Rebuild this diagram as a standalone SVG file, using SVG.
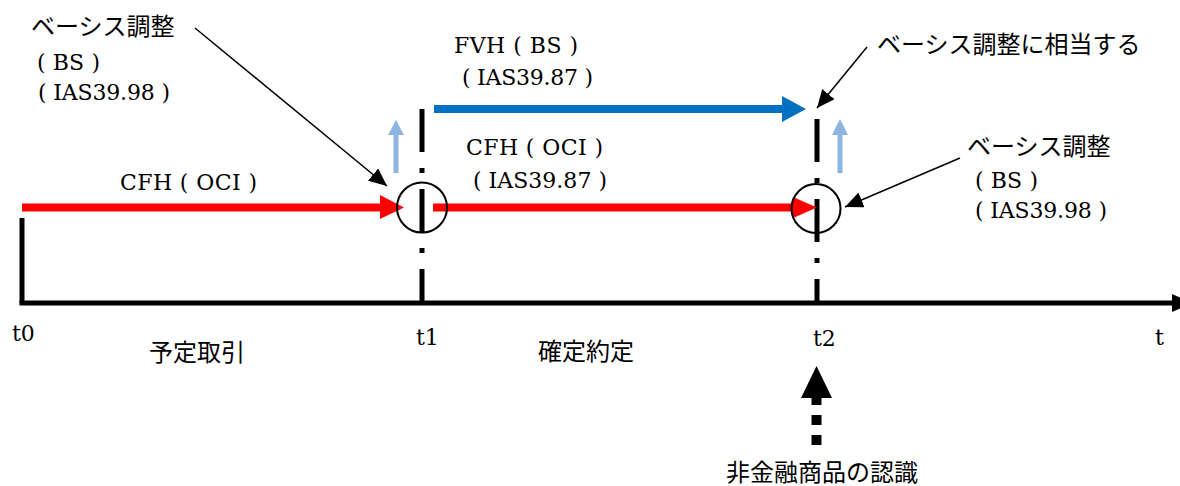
<svg xmlns="http://www.w3.org/2000/svg" width="1180" height="486" viewBox="0 0 1180 486">
<style>
.jp{font-family:"Noto Sans CJK JP","Noto Sans",sans-serif;font-size:24px;fill:#000}
.sf{font-family:"DejaVu Serif","Liberation Serif",serif;font-size:22px;fill:#000}
.thin{stroke:#000;stroke-width:1.5;fill:none;marker-end:url(#ah)}
.dd{stroke:#000;stroke-width:5;stroke-dasharray:43 16 5 16;fill:none}
.circ{fill:none;stroke:#000;stroke-width:2}
</style>
<defs>
<marker id="ah" markerUnits="userSpaceOnUse" markerWidth="20" markerHeight="16" refX="18" refY="8" orient="auto">
<path d="M0,0 L18,8 L0,16 Z" fill="#000"/>
</marker>
</defs>
<rect width="1180" height="486" fill="#fff"/>

<g id="axis">
<line x1="22" y1="218" x2="22" y2="303" stroke="#000" stroke-width="5"/>
<line x1="19.5" y1="303" x2="1174" y2="303" stroke="#000" stroke-width="5"/>
<polygon points="1172,294 1192,303 1172,312" fill="#000"/>
</g>

<g id="t1-line"><line class="dd" x1="422" y1="109" x2="422" y2="303"/></g>
<g id="t2-line"><line class="dd" x1="817" y1="119" x2="817" y2="303"/></g>

<g id="connectors">
<line x1="22" y1="207.5" x2="381" y2="207.5" stroke="#ff0000" stroke-width="8"/>
<polygon points="380,195 404,207.5 380,219" fill="#ff0000"/>
<line x1="433" y1="207.5" x2="794" y2="207.5" stroke="#ff0000" stroke-width="8"/>
<polygon points="793,197 817,207.5 793,218" fill="#ff0000"/>
<line x1="434" y1="109" x2="783" y2="109" stroke="#0070c0" stroke-width="8"/>
<polygon points="782,96 806,109 782,122" fill="#0070c0"/>
<line x1="396" y1="173" x2="396" y2="134" stroke="#8db4e2" stroke-width="5"/>
<polygon points="388,135 396,120 404,135" fill="#8db4e2"/>
<line x1="840" y1="173" x2="840" y2="134" stroke="#8db4e2" stroke-width="5"/>
<polygon points="832,135 840,119 848,135" fill="#8db4e2"/>
<line class="thin" x1="195" y1="28" x2="387" y2="186"/>
<line class="thin" x1="867" y1="47" x2="817" y2="108"/>
<line class="thin" x1="960" y1="158" x2="845" y2="207"/>
<line x1="816.5" y1="445" x2="816.5" y2="398" stroke="#000" stroke-width="10" stroke-dasharray="10 10"/>
<polygon points="801,398 816.5,366 832,398" fill="#000"/>
</g>

<g id="circle-t1"><circle class="circ" cx="422" cy="207.5" r="25"/></g>
<g id="circle-t2"><circle class="circ" cx="816" cy="208.5" r="24.5"/></g>

<g id="label-basis-left">
<text class="jp" x="31" y="35">ベーシス調整</text>
<text class="sf" x="37" y="70" textLength="63">( BS )</text>
<text class="sf" x="38" y="100" textLength="132">( IAS39.98 )</text>
</g>
<g id="label-cfh1"><text class="sf" x="120" y="190" textLength="137">CFH ( OCI )</text></g>
<g id="label-fvh">
<text class="sf" x="454" y="53" textLength="124">FVH ( BS )</text>
<text class="sf" x="462" y="85" textLength="131">( IAS39.87 )</text>
</g>
<g id="label-cfh2">
<text class="sf" x="466" y="155" textLength="137">CFH ( OCI )</text>
<text class="sf" x="473" y="188" textLength="134">( IAS39.87 )</text>
</g>
<g id="label-equiv"><text class="jp" x="877" y="53">ベーシス調整に相当する</text></g>
<g id="label-basis-right">
<text class="jp" x="967" y="155">ベーシス調整</text>
<text class="sf" x="975" y="188" textLength="63">( BS )</text>
<text class="sf" x="975" y="218" textLength="132">( IAS39.98 )</text>
</g>
<g id="label-t0"><text class="sf" x="12" y="341">t0</text></g>
<g id="label-t1"><text class="sf" x="416" y="345">t1</text></g>
<g id="label-t2"><text class="sf" x="813" y="346">t2</text></g>
<g id="label-t"><text class="sf" x="1155" y="345">t</text></g>
<g id="label-forecast"><text class="jp" x="149" y="361">予定取引</text></g>
<g id="label-firm"><text class="jp" x="538" y="360">確定約定</text></g>
<g id="label-recognition"><text class="jp" x="726" y="481">非金融商品の認識</text></g>
</svg>
